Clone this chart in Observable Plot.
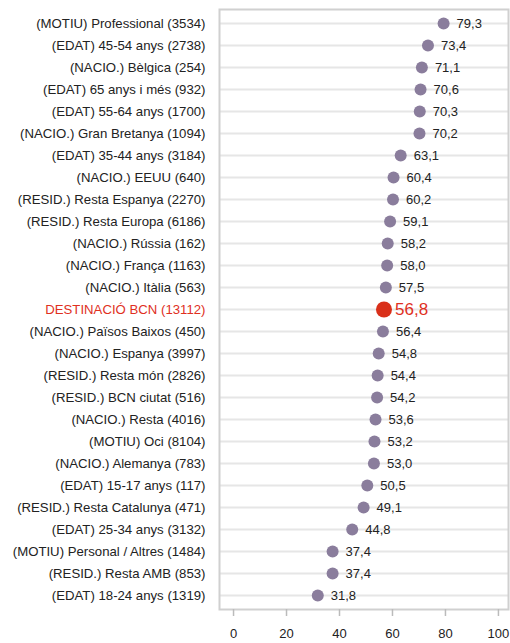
<!DOCTYPE html>
<html>
<head>
<meta charset="utf-8">
<script src="https://cdn.jsdelivr.net/npm/d3@7"></script>
<script src="https://cdn.jsdelivr.net/npm/@observablehq/plot@0.6"></script>
<style>
  html, body { margin: 0; padding: 0; background: #fff; }
  body { font-family: "Liberation Sans", Arial, sans-serif; }
</style>
</head>
<body>
<div id="chart"></div>
<script>
const categories = [
  "(MOTIU) Professional (3534)",
  "(EDAT) 45-54 anys (2738)",
  "(NACIO.) Bèlgica (254)",
  "(EDAT) 65 anys i més (932)",
  "(EDAT) 55-64 anys (1700)",
  "(NACIO.) Gran Bretanya (1094)",
  "(EDAT) 35-44 anys (3184)",
  "(NACIO.) EEUU (640)",
  "(RESID.) Resta Espanya (2270)",
  "(RESID.) Resta Europa (6186)",
  "(NACIO.) Rússia (162)",
  "(NACIO.) França (1163)",
  "(NACIO.) Itàlia (563)",
  "DESTINACIÓ BCN (13112)",
  "(NACIO.) Països Baixos (450)",
  "(NACIO.) Espanya (3997)",
  "(RESID.) Resta món (2826)",
  "(RESID.) BCN ciutat (516)",
  "(NACIO.) Resta (4016)",
  "(MOTIU) Oci (8104)",
  "(NACIO.) Alemanya (783)",
  "(EDAT) 15-17 anys (117)",
  "(RESID.) Resta Catalunya (471)",
  "(EDAT) 25-34 anys (3132)",
  "(MOTIU) Personal / Altres (1484)",
  "(RESID.) Resta AMB (853)",
  "(EDAT) 18-24 anys (1319)"
];
const values = [79.3, 73.4, 71.1, 70.6, 70.3, 70.2, 63.1, 60.4, 60.2, 59.1, 58.2, 58.0, 57.5, 56.8, 56.4, 54.8, 54.4, 54.2, 53.6, 53.2, 53.0, 50.5, 49.1, 44.8, 37.4, 37.4, 31.8];
const highlight = "DESTINACIÓ BCN (13112)";
const xTicks = [0, 20, 40, 60, 80, 100];

const data = categories.map((c, i) => ({label: c, value: values[i], hl: c === highlight}));
const normal = data.filter(d => !d.hl);
const special = data.filter(d => d.hl);
const fmt = v => v.toFixed(1).replace(".", ",");

const chart = Plot.plot({
  width: 510,
  height: 643,
  marginLeft: 219,
  marginRight: 2,
  marginTop: 9,
  marginBottom: 34,
  style: {fontFamily: "'Liberation Sans', Arial, sans-serif", fontSize: "13px", color: "#222", background: "#fff"},
  x: {domain: [-5.3, 103.8], ticks: xTicks},
  y: {domain: categories, insetTop: 3, insetBottom: 3, padding: 0},
  marks: [
    Plot.ruleY(categories, {y: d => d, stroke: "#e6e6e6", strokeWidth: 2}),
    Plot.frame({stroke: "#d0d0d0", strokeWidth: 2}),
    Plot.axisX({ticks: xTicks, tickSize: 7, tickPadding: 12, stroke: "#bbb", strokeWidth: 1.5, fill: "#222", fontSize: 13, label: null}),
    Plot.axisY({tickSize: 0, ticks: [], label: null}),
    Plot.text(data, {y: "label", text: "label", frameAnchor: "left", textAnchor: "end", dx: -14,
      fill: d => d.hl ? "#e0301e" : "#222", fontSize: 13.2}),
    Plot.dot(normal, {x: "value", y: "label", r: 6, fill: "#8a7d9c", stroke: "none"}),
    Plot.dot(special, {x: "value", y: "label", r: 8, fill: "#d9301a", stroke: "none"}),
    Plot.text(normal, {x: "value", y: "label", text: d => fmt(d.value), textAnchor: "start", dx: 13, fill: "#222", fontSize: 13}),
    Plot.text(special, {x: "value", y: "label", text: d => fmt(d.value), textAnchor: "start", dx: 11, fill: "#e0301e", fontSize: 17})
  ]
});
document.getElementById("chart").appendChild(chart);
</script>
</body>
</html>
